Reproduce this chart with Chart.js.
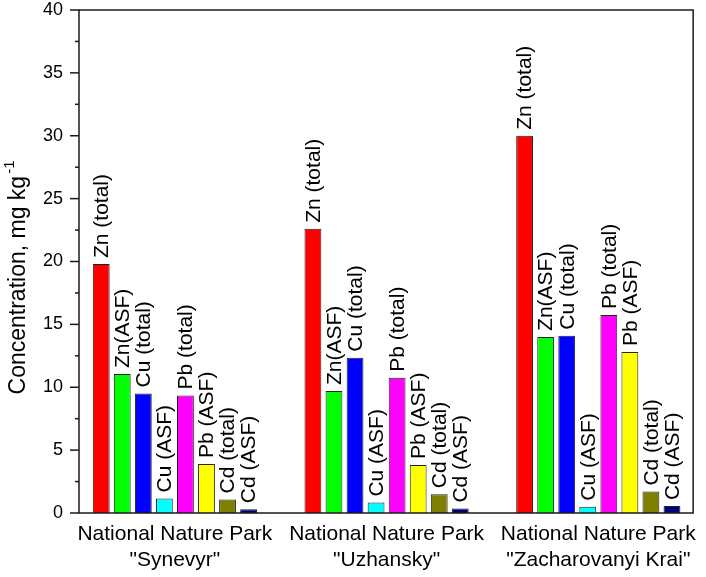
<!DOCTYPE html>
<html>
<head>
<meta charset="utf-8">
<script src="https://cdn.jsdelivr.net/npm/chart.js@4.4.1/dist/chart.umd.min.js"></script>
<style>
  html, body { margin: 0; padding: 0; background: #fff; }
</style>
</head>
<body>
<canvas id="myChart" width="706" height="577"></canvas>
<script>
const parks = [
    ['National Nature Park', '"Synevyr"'],
    ['National Nature Park', '"Uzhansky"'],
    ['National Nature Park', '"Zacharovanyi Krai"']
];
const seriesNames = ['Zn (total)', 'Zn(ASF)', 'Cu (total)', 'Cu (ASF)', 'Pb (total)', 'Pb (ASF)', 'Cd (total)', 'Cd (ASF)'];
const znTotal = [19.8, 22.6, 30.0];
const znAsf   = [11.05, 9.7, 14.0];
const cuTotal = [9.5, 12.35, 14.1];
const cuAsf   = [1.15, 0.83, 0.5];
const pbTotal = [9.35, 10.75, 15.75];
const pbAsf   = [3.9, 3.82, 12.8];
const cdTotal = [1.08, 1.5, 1.7];
const cdAsf   = [0.3, 0.35, 0.55];
const seriesValues = [znTotal, znAsf, cuTotal, cuAsf, pbTotal, pbAsf, cdTotal, cdAsf];
const seriesColors = ['#ff0000', '#00ff00', '#0000ff', '#00ffff', '#ff00ff', '#ffff00', '#808000', '#000080'];

const FONT = "'Liberation Sans', Arial, sans-serif";

// frame box + major/minor ticks on the left axis
const framePlugin = {
    id: 'frame',
    afterDatasetsDraw(chart) {
        const { ctx, chartArea: a, scales: { y } } = chart;
        ctx.save();
        ctx.strokeStyle = '#1a1a1a';
        ctx.lineWidth = 1.5;
        ctx.strokeRect(a.left, a.top, a.right - a.left, a.bottom - a.top);
        const minorStep = 2.5;
        for (let v = y.min; v <= y.max; v += minorStep) {
            const py = y.getPixelForValue(v);
            const len = v % 5 === 0 ? 9 : 4;
            ctx.beginPath();
            ctx.moveTo(a.left - len, py);
            ctx.lineTo(a.left, py);
            ctx.stroke();
        }
        ctx.restore();
    }
};

// vertical labels above every bar
const barLabels = {
    id: 'barLabels',
    afterDatasetsDraw(chart) {
        const ctx = chart.ctx;
        ctx.save();
        ctx.fillStyle = '#000';
        ctx.font = '21px ' + FONT;
        ctx.textAlign = 'left';
        ctx.textBaseline = 'middle';
        chart.data.datasets.forEach((ds, i) => {
            chart.getDatasetMeta(i).data.forEach(bar => {
                ctx.save();
                ctx.translate(bar.x + 1, bar.y - 6);
                ctx.rotate(-Math.PI / 2);
                ctx.fillText(ds.label, 0, 0);
                ctx.restore();
            });
        });
        ctx.restore();
    }
};

// y axis title with superscript
const yTitle = {
    id: 'yTitle',
    afterDraw(chart) {
        const { ctx, chartArea: a } = chart;
        const main = 'Concentration, mg kg';
        const sup = '-1';
        ctx.save();
        ctx.fillStyle = '#000';
        ctx.font = '23px ' + FONT;
        const w1 = ctx.measureText(main).width;
        ctx.font = '15px ' + FONT;
        const w2 = ctx.measureText(sup).width;
        const total = w1 + w2 + 2;
        ctx.translate(25, (a.top + a.bottom) / 2 + 16);
        ctx.rotate(-Math.PI / 2);
        ctx.textAlign = 'left';
        ctx.textBaseline = 'alphabetic';
        ctx.font = '23px ' + FONT;
        ctx.fillText(main, -total / 2, 0);
        ctx.font = '15px ' + FONT;
        ctx.fillText(sup, -total / 2 + w1 + 2, -11);
        ctx.restore();
    }
};

const ctx = document.getElementById('myChart').getContext('2d');
const myChart = new Chart(ctx, {
    type: 'bar',
    data: {
        datasets: seriesNames.map((name, i) => ({
            label: name,
            data: seriesValues[i].map((v, j) => ({ x: j, y: v })),
            backgroundColor: seriesColors[i],
            borderColor: '#222',
            borderWidth: 1,
            categoryPercentage: 0.7955,
            barPercentage: 0.8
        }))
    },
    options: {
        responsive: false,
        animation: false,
        layout: {
            padding: { top: 10, right: 8, left: 0, bottom: 0 }
        },
        scales: {
            x: {
                type: 'linear',
                min: -0.453,
                max: 2.448,
                offset: false,
                grid: { display: false, drawTicks: false, offset: false },
                border: { display: false },
                afterBuildTicks: s => { s.ticks = parks.map((p, i) => ({ value: i })); },
                afterFit: s => { s.height = 64; },
                ticks: {
                    autoSkip: false,
                    maxRotation: 0,
                    padding: 9,
                    color: '#000',
                    font: { family: FONT, size: 21, lineHeight: 1.2 },
                    callback: v => parks[v]
                }
            },
            y: {
                min: 0,
                max: 40,
                grid: { display: false, drawTicks: false },
                border: { display: false },
                afterFit: s => { s.width = 79; s.paddingTop = 0; s.paddingBottom = 0; },
                ticks: {
                    stepSize: 5,
                    padding: 16,
                    color: '#000',
                    font: { family: FONT, size: 18 }
                }
            }
        },
        plugins: {
            legend: { display: false },
            tooltip: { enabled: false }
        }
    },
    plugins: [framePlugin, barLabels, yTitle]
});
</script>
</body>
</html>
